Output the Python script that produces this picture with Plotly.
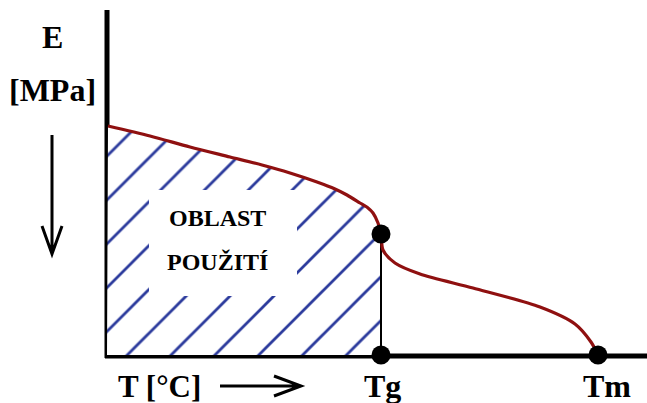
import plotly.graph_objects as go

# Schematic E(T) curve, in canvas units (x: temperature direction, y: down = lower modulus)
glassy_T = [108, 150, 190, 230, 262, 290, 317, 335, 347, 360, 368, 373, 378, 381]
glassy_E = [126, 136, 147, 157, 165, 173, 182, 189, 195, 203, 208, 213, 223, 234]
rubbery_T = [381, 383, 395, 420, 473, 540, 575, 591, 598]
rubbery_E = [234, 250, 263, 274, 288, 307, 324, 342, 355]

point_T = [381, 381, 598]
point_E = [234, 355, 355]

x_labels = ["Tg", "Tm"]
x_label_pos = [382, 607]

BASE = 355
ORIGIN_X = 107

W, H = 647, 403
RED = "#8f1010"
BLUE = "#2b3a9c"
FONT = "Liberation Serif"

fig = go.Figure()

# hatched area (usage region)
fig.add_trace(go.Scatter(
    x=glassy_T + [glassy_T[-1], ORIGIN_X],
    y=glassy_E + [BASE, BASE],
    mode="none", fill="toself", fillcolor="white",
    fillpattern=dict(shape="/", size=31, solidity=0.09, fgcolor=BLUE, bgcolor="white",
                     fgopacity=1),
    hoverinfo="skip", showlegend=False))

# vertical line at Tg
fig.add_trace(go.Scatter(x=[point_T[0], point_T[1]], y=[point_E[0], point_E[1]],
                         mode="lines", line=dict(color="black", width=2),
                         hoverinfo="skip", showlegend=False))

# curve
fig.add_trace(go.Scatter(x=glassy_T + rubbery_T[1:], y=glassy_E + rubbery_E[1:],
                         mode="lines", line=dict(color=RED, width=3.2, shape="spline", smoothing=0.8),
                         hoverinfo="skip", showlegend=False))

# points
fig.add_trace(go.Scatter(x=point_T, y=point_E, mode="markers",
                         marker=dict(color="black", size=19),
                         hoverinfo="skip", showlegend=False))

shapes = [
    # white label box over hatch
    dict(type="rect", x0=149, x1=297, y0=190, y1=296, fillcolor="white",
         line=dict(width=0), layer="above"),
    # axes
    dict(type="line", x0=ORIGIN_X, x1=ORIGIN_X, y0=10, y1=BASE + 3,
         line=dict(color="black", width=5), layer="below"),
    dict(type="line", x0=ORIGIN_X - 2, x1=W, y0=BASE + 1, y1=BASE + 1,
         line=dict(color="black", width=5), layer="below"),
    # down arrow
    dict(type="path", path="M52,135 L52,254 M42,226 L52,254 L62,226",
         line=dict(color="black", width=3)),
    # right arrow
    dict(type="path", path="M220,386 L301,386 M274,376 L301,386 L274,396",
         line=dict(color="black", width=3)),
]

ann = []
def txt(x, y, s, size):
    ann.append(dict(x=x, y=y, text="<b>%s</b>" % s, showarrow=False,
                    font=dict(family=FONT, size=size, color="black"),
                    xanchor="center", yanchor="middle"))

txt(52, 37, "E", 32)
txt(52, 90, "[MPa]", 32)
txt(159, 386, "T [°C]", 31)
for lab, pos in zip(x_labels, x_label_pos):
    txt(pos, 386, lab, 32)
txt(217, 218, "OBLAST", 24)
txt(217, 262, "POUŽITÍ", 24)

fig.update_layout(
    width=W, height=H, margin=dict(l=0, r=0, t=0, b=0),
    paper_bgcolor="white", plot_bgcolor="white",
    xaxis=dict(range=[0, W], visible=False, fixedrange=True),
    yaxis=dict(range=[H, 0], visible=False, fixedrange=True),
    shapes=shapes, annotations=ann, showlegend=False,
)

fig.write_html("out.html")
